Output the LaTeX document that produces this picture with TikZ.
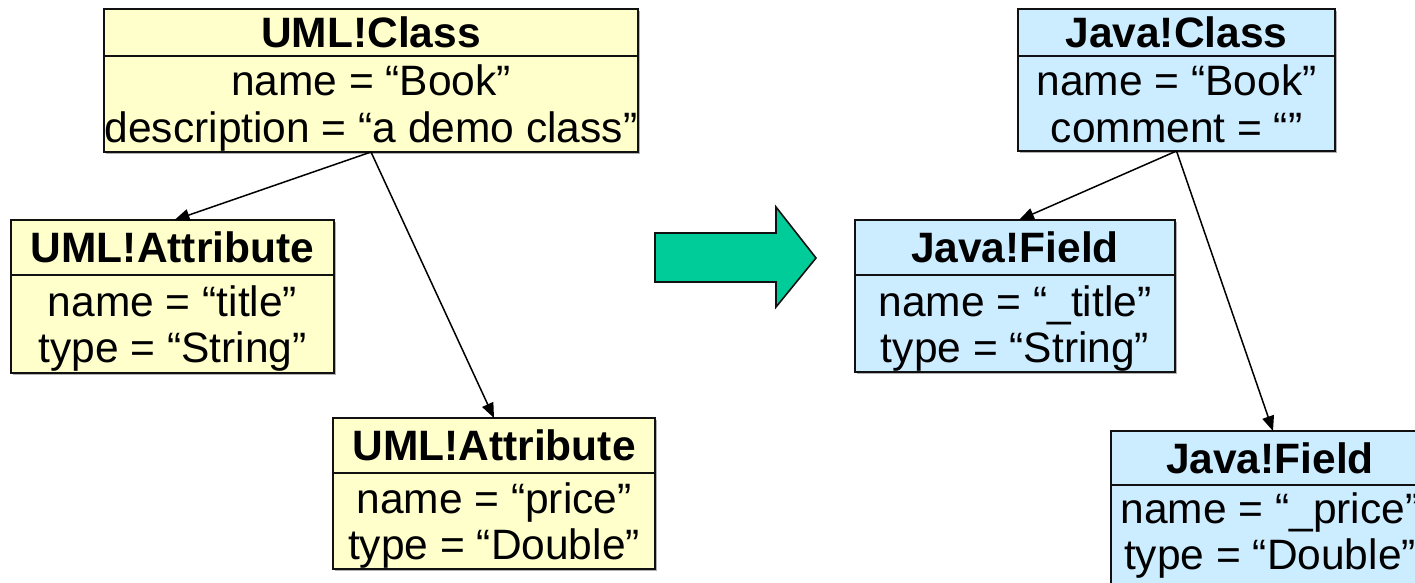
\documentclass[tikz,border=0pt]{standalone}
\usepackage{fontspec}
\setmainfont{Liberation Sans}
\usetikzlibrary{arrows.meta,shadows}

\definecolor{umlfill}{HTML}{FFFFCC}
\definecolor{javafill}{HTML}{CCECFF}
\definecolor{arrowgreen}{HTML}{00CC99}
\definecolor{edgeline}{HTML}{111111}

\tikzset{
  part/.style={draw=edgeline, line width=1.6pt, rectangle, inner sep=0pt, outer sep=0pt,
    drop shadow={shadow xshift=1.5pt, shadow yshift=-1.5pt, fill=black!30, opacity=1}},
  umlpart/.style={part, fill=umlfill},
  javapart/.style={part, fill=javafill},
  heading/.style={font=\fontsize{42.5}{48}\selectfont\bfseries},
  slot/.style={font=\fontsize{42.5}{48}\selectfont, anchor=base, inner sep=0pt},
  link/.style={draw=black, line width=1.5pt, -{Triangle[length=15pt,width=12pt]}},
}

\begin{document}
\begin{tikzpicture}[x=1pt, y=-1pt]
\clip (0,0) rectangle (1415,582);

% ---------------- source model (UML) ----------------
\node[umlpart, heading, anchor=north west, minimum width=534pt, minimum height=47pt] (uc) at (104,9) {UML!Class};
\node[umlpart, anchor=north, minimum width=534pt, minimum height=96pt] (ucb) at (uc.south) {};
\node[slot] (ucn) at ([yshift=-39pt]ucb.north) {name = “Book”};
\node[slot] (ucd) at ([yshift=-86pt]ucb.north) {description = “a demo class”};

\node[umlpart, heading, anchor=north west, minimum width=323pt, minimum height=55pt] (ua1) at (11,220) {UML!Attribute};
\node[umlpart, anchor=north, minimum width=323pt, minimum height=98pt] (ua1b) at (ua1.south) {};
\node[slot] (ua1n) at ([yshift=-41pt]ua1b.north) {name = “title”};
\node[slot] (ua1t) at ([yshift=-87pt]ua1b.north) {type = “String”};

\node[umlpart, heading, anchor=north west, minimum width=322pt, minimum height=55pt] (ua2) at (333,418) {UML!Attribute};
\node[umlpart, anchor=north, minimum width=322pt, minimum height=96pt] (ua2b) at (ua2.south) {};
\node[slot] (ua2n) at ([yshift=-40pt]ua2b.north) {name = “price”};
\node[slot] (ua2t) at ([yshift=-86pt]ua2b.north) {type = “Double”};

\draw[link] (ucb.south) -- ([xshift=2pt]ua1.north);
\draw[link] (ucb.south) -- (ua2.north);

% ---------------- transformation arrow ----------------
\filldraw[fill=arrowgreen, draw=edgeline, line width=1.6pt, line join=miter]
  (655,233) -- (776,233) -- (776,207) -- (816,258) -- (776,307) -- (776,282) -- (655,282) -- cycle;

% ---------------- target model (Java) ----------------
\node[javapart, heading, anchor=north west, minimum width=317pt, minimum height=47pt] (jc) at (1018,9) {Java!Class};
\node[javapart, anchor=north, minimum width=317pt, minimum height=95pt] (jcb) at (jc.south) {};
\node[slot] (jcn) at ([yshift=-39pt]jcb.north) {name = “Book”};
\node[slot] (jcc) at ([yshift=-86pt]jcb.north) {comment = “”};

\node[javapart, heading, anchor=north west, minimum width=320pt, minimum height=55pt] (jf1) at (855,220) {Java!Field};
\node[javapart, anchor=north, minimum width=320pt, minimum height=97pt] (jf1b) at (jf1.south) {};
\node[slot] (jf1n) at ([yshift=-41pt]jf1b.north) {name = “\_title”};
\node[slot] (jf1t) at ([yshift=-87pt]jf1b.north) {type = “String”};

\node[javapart, heading, anchor=north west, minimum width=318pt, minimum height=54pt] (jf2) at (1111,431) {Java!Field};
\node[javapart, anchor=north, minimum width=318pt, minimum height=100pt] (jf2b) at (jf2.south) {};
\node[slot] (jf2n) at ([yshift=-38pt]jf2b.north) {name = “\_price”};
\node[slot] (jf2t) at ([yshift=-84pt]jf2b.north) {type = “Double”};

\draw[link] (jcb.south) -- ([xshift=4pt]jf1.north);
\draw[link] (jcb.south) -- ([xshift=3pt]jf2.north);
\end{tikzpicture}
\end{document}
